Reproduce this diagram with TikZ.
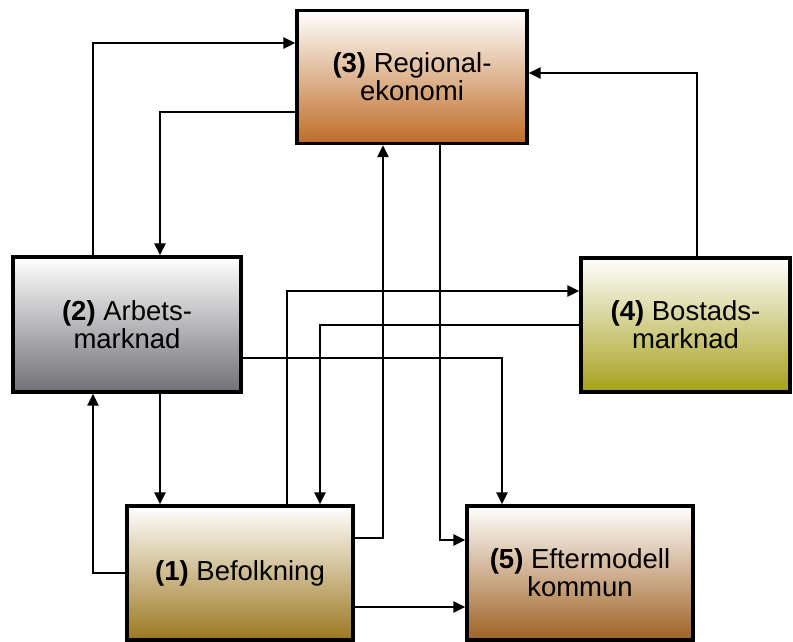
\documentclass[tikz,border=0pt]{standalone}
\usepackage{fontspec}
\setmainfont{Liberation Sans}
\usetikzlibrary{arrows.meta}
\definecolor{c3}{RGB}{190,108,38}
\definecolor{c2}{RGB}{112,112,118}
\definecolor{c4}{RGB}{165,160,28}
\definecolor{c1}{RGB}{155,120,32}
\definecolor{c5}{RGB}{158,98,36}
\tikzset{
  box/.style={draw=black, line width=3.2pt, rectangle, align=center,
    font=\fontsize{27.5}{28}\selectfont, inner sep=0pt},
  arr/.style={line width=2.4pt, -{Triangle[length=12pt,width=11pt]}}
}
\begin{document}
\begin{tikzpicture}[x=1pt,y=-1pt]
\useasboundingbox (0,0) rectangle (793,642);
\node[box, minimum width=230pt, minimum height=133pt, top color=white, bottom color=c3] (b3) at (412,77) {\textbf{(3)} Regional-\\ekonomi};
\node[box, minimum width=228pt, minimum height=135pt, top color=white, bottom color=c2] (b2) at (127,324.5) {\textbf{(2)} Arbets-\\marknad};
\node[box, minimum width=209pt, minimum height=134pt, top color=white, bottom color=c4] (b4) at (685.5,325) {\textbf{(4)} Bostads-\\marknad};
\node[box, minimum width=226pt, minimum height=134pt, top color=white, bottom color=c1] (b1) at (240,573) {\textbf{(1)} Befolkning};
\node[box, minimum width=226pt, minimum height=134pt, top color=white, bottom color=c5] (b5) at (580,573) {\textbf{(5)} Eftermodell\\kommun};
% guide coordinates
\coordinate (x93) at (93,0);
\coordinate (x160) at (160,0);
\coordinate (x287) at (287,0);
\coordinate (x320) at (320,0);
\coordinate (x383) at (383,0);
\coordinate (x440) at (440,0);
\coordinate (x502) at (502,0);
\coordinate (x697) at (697,0);
\coordinate (y43) at (0,43);
\coordinate (y73) at (0,73);
\coordinate (y112) at (0,112);
\coordinate (y291) at (0,291);
\coordinate (y325) at (0,325);
\coordinate (y358) at (0,358);
\coordinate (y538) at (0,538);
\coordinate (y540) at (0,540);
\coordinate (y607) at (0,607);
% connectors
\draw[arr] (b2.north -| x93) |- (b3.west |- y43);
\draw[arr] (b3.west |- y112) -| (b2.north -| x160);
\draw[arr] (b4.north -| x697) |- (b3.east |- y73);
\draw[arr] (b3.south -| x440) |- (b5.west |- y540);
\draw[arr] (b1.east |- y538) -| (b3.south -| x383);
\draw[arr] (b1.north -| x287) |- (b4.west |- y291);
\draw[arr] (b4.west |- y325) -| (b1.north -| x320);
\draw[arr] (b2.east |- y358) -| (b5.north -| x502);
\draw[arr] (b2.south -| x160) -- (b1.north -| x160);
\draw[arr] (b1.west) -| (b2.south -| x93);
\draw[arr] (b1.east |- y607) -- (b5.west |- y607);
\end{tikzpicture}
\end{document}
